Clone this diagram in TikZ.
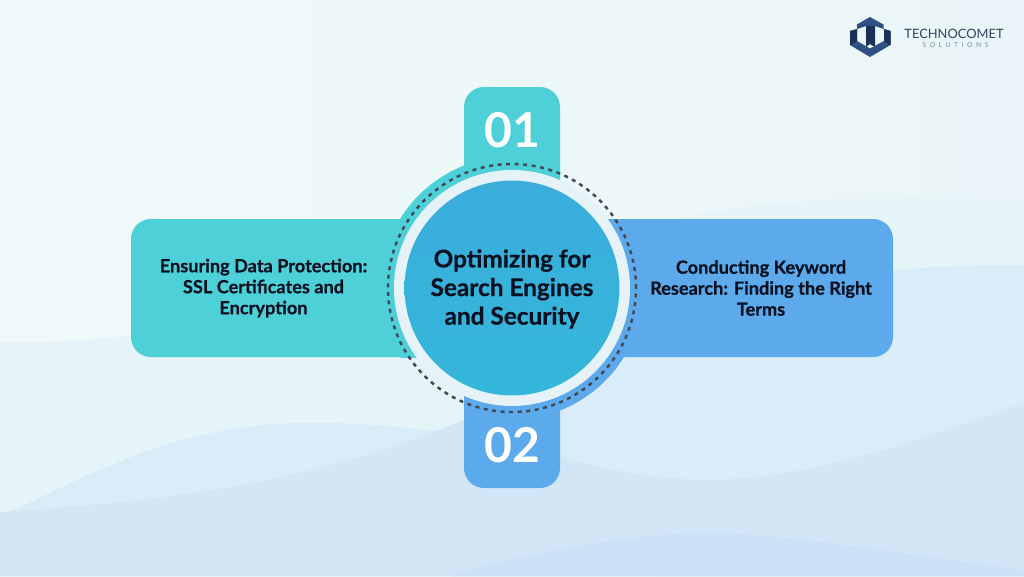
\documentclass[tikz,border=0pt]{standalone}
\usepackage{fontspec}
\usepackage{xcolor}
\setmainfont[BoldFeatures={FakeBold=0.5}]{Lato}
\newfontfamily\numfont{Lato}
\newfontfamily\spacedfont[LetterSpace=52]{Lato}
\definecolor{bgleft}{HTML}{F0FAFA}
\definecolor{bgright}{HTML}{E9F5F8}
\definecolor{waveone}{HTML}{E5F4F9}
\definecolor{wavetwo}{HTML}{D8EDF7}
\definecolor{wavethree}{HTML}{D3E6F5}
\definecolor{wavefour}{HTML}{CCE0F6}
\definecolor{tealbox}{HTML}{4DD0D8}
\definecolor{bluebox}{HTML}{5CA9EB}
\definecolor{ringfill}{HTML}{E5F3F9}
\definecolor{hubtop}{HTML}{3AADDB}
\definecolor{hubbottom}{HTML}{35B7DB}
\definecolor{inkdark}{HTML}{071120}
\definecolor{dashgrey}{HTML}{434A55}
\definecolor{logodark}{HTML}{1C3157}
\definecolor{logomid}{HTML}{2F4F85}
\definecolor{logotext}{HTML}{33445E}
\definecolor{logosub}{HTML}{7C8DA2}
\begin{document}
\begin{tikzpicture}[x=0.03cm,y=0.03cm]
\tikzstyle{every node}+=[inner sep=0pt]
\tikzstyle{boxtext}=[text=inkdark,align=center,font=\fontsize{15.5}{17.9}\selectfont\bfseries]
\tikzstyle{tabnum}=[text=white,font=\fontsize{41}{41}\selectfont\numfont\bfseries]
\useasboundingbox (0,0) rectangle (1024,-576);
% background
\shade [left color=bgleft,right color=bgright] (0,0) rectangle (1024,-576);
\fill [waveone] (0,-342) .. controls (250,-345) and (450,-260) .. (710,-213) .. controls (800,-197) and (900,-197) .. (1024,-200) -- (1024,-576) -- (0,-576) -- cycle;
\fill [wavetwo] (0,-530) -- (13,-510) .. controls (100,-470) and (180,-425) .. (300,-423) .. controls (360,-422) and (420,-428) .. (463,-435) -- (520,-420) -- (540,-300) -- (880,-300) -- (890,-271) .. controls (930,-266) and (980,-265) .. (1024,-265) -- (1024,-576) -- (0,-576) -- cycle;
\fill [wavethree] (0,-512) .. controls (130,-503) and (300,-490) .. (464,-420) -- (500,-430) -- (562,-457) .. controls (620,-475) and (680,-481) .. (719,-480) .. controls (830,-475) and (930,-435) .. (1024,-403) -- (1024,-576) -- (0,-576) -- cycle;
\fill [wavefour] (450,-576) .. controls (480,-566) and (500,-562) .. (512,-560) .. controls (600,-540) and (660,-533) .. (712,-533) .. controls (800,-535) and (900,-555) .. (1024,-570) -- (1024,-576) -- cycle;
% teal side
\fill [tealbox] (420,-219) {[rounded corners=17pt] -- (131,-219) -- (131,-357) -- (420,-357)} -- cycle;
\fill [tealbox] (560,-195) {[rounded corners=17pt] -- (560,-87) -- (464,-87) -- (464,-195)} -- cycle;
\begin{scope}
\clip (0,0) rectangle (560,-357);
\fill [tealbox] (512,-288) circle (131.5);
\end{scope}
% blue side
\fill [bluebox] (600,-219) {[rounded corners=17pt] -- (893,-219) -- (893,-357) -- (600,-357)} -- cycle;
\fill [bluebox] (560,-380) {[rounded corners=17pt] -- (560,-488) -- (464,-488) -- (464,-380)} -- cycle;
\begin{scope}
\clip (464,-219) rectangle (1024,-576);
\fill [bluebox] (512,-288) circle (131.5);
\end{scope}
% hub
\fill [ringfill] (512,-288) circle (118);
\shade [top color=hubtop,bottom color=hubbottom] (512,-288) circle (107.5);
\draw [dashgrey,line width=2.1pt,dash pattern=on 3.4pt off 3.9pt] (512,-288) circle (124);
\node (hublabel) [text=inkdark,align=center,font=\fontsize{20.8}{24.4}\selectfont\bfseries] at (512,-289) {Optimizing for\\Search Engines\\and Security};
\node (leftlabel) [boxtext] at (263.5,-288) {Ensuring Data Protection:\\SSL Certificates and\\Encryption};
\node (rightlabel) [boxtext] at (761,-288) {Conducting Keyword\\Research: Finding the Right\\Terms};
\node (tabone) [tabnum] at (512,-130) {01};
\node (tabtwo) [tabnum] at (512,-445) {02};
% logo
\fill [logomid] (870,-17) -- (883.5,-24.5) -- (883.5,-29) -- (875,-26) -- (866,-26) -- (857,-29) -- (857,-24.5) -- cycle;
\fill [logodark] (866,-26) -- (875,-26) -- (875,-47) -- (870,-44) -- (866,-47) -- cycle;
\fill [logomid] (850,-31) -- (857,-29) -- (857,-41) -- (870,-48.5) -- (884,-41) -- (884,-29) -- (890.5,-31) -- (890.5,-45) -- (870,-57) -- (850,-45) -- cycle;
\fill [logodark] (850,-45) -- (857,-41) -- (857,-29) -- (850,-31) -- cycle;
\fill [logodark] (890.5,-45) -- (884,-41) -- (884,-29) -- (890.5,-31) -- cycle;
\node (logotitle) [text=logotext,font=\fontsize{11}{11}\selectfont] at (954,-33.5) {TECHNOCOMET};
\node (logosubtitle) [text=logosub,font=\fontsize{5.8}{6}\selectfont\spacedfont] at (955.5,-45.5) {SOLUTIONS};
\end{tikzpicture}
\end{document}
